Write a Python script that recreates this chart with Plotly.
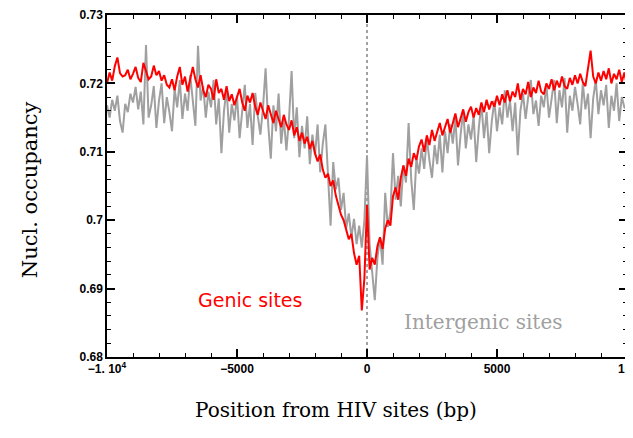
import plotly.graph_objects as go

positions = list(range(-10000, 10001, 100))

genic = [
    0.7200, 0.7216, 0.7204, 0.7225, 0.7238, 0.7215, 0.7210, 0.7212, 0.7220, 0.7206,
    0.7214, 0.7224, 0.7208, 0.7202, 0.7230, 0.7218, 0.7206, 0.7210, 0.7226, 0.7212,
    0.7218, 0.7204, 0.7212, 0.7198, 0.7194, 0.7206, 0.7190, 0.7210, 0.7224, 0.7198,
    0.7210, 0.7188, 0.7204, 0.7224, 0.7206, 0.7194, 0.7212, 0.7190, 0.7180, 0.7198,
    0.7192, 0.7176, 0.7206, 0.7186, 0.7192, 0.7176, 0.7196, 0.7174, 0.7184, 0.7168,
    0.7180, 0.7192, 0.7172, 0.7160, 0.7182, 0.7172, 0.7186, 0.7166, 0.7154, 0.7172,
    0.7160, 0.7148, 0.7168, 0.7156, 0.7142, 0.7160, 0.7146, 0.7136, 0.7154, 0.7140,
    0.7132, 0.7146, 0.7124, 0.7136, 0.7116, 0.7128, 0.7112, 0.7122, 0.7104, 0.7116,
    0.7098, 0.7086, 0.7096, 0.7074, 0.7062, 0.7068, 0.7050, 0.7058, 0.7036, 0.7022,
    0.7008, 0.7000, 0.6986, 0.6972, 0.6980, 0.6952, 0.6935, 0.6948, 0.6868, 0.6915,
    0.7022,
    0.6928, 0.6945, 0.6935, 0.6962, 0.6975, 0.6958, 0.6988, 0.7000, 0.6992, 0.7035,
    0.7048, 0.7030, 0.7062, 0.7080, 0.7065, 0.7090, 0.7078, 0.7098, 0.7088, 0.7108,
    0.7118, 0.7100, 0.7124, 0.7110, 0.7132, 0.7116, 0.7128, 0.7142, 0.7124, 0.7138,
    0.7148, 0.7128, 0.7144, 0.7156, 0.7136, 0.7150, 0.7162, 0.7144, 0.7158, 0.7166,
    0.7150, 0.7164, 0.7154, 0.7172, 0.7158, 0.7176, 0.7162, 0.7174, 0.7166, 0.7182,
    0.7168, 0.7184, 0.7172, 0.7190, 0.7174, 0.7188, 0.7180, 0.7200, 0.7176, 0.7192,
    0.7184, 0.7202, 0.7180, 0.7194, 0.7186, 0.7204, 0.7188, 0.7184, 0.7200, 0.7192,
    0.7206, 0.7190, 0.7204, 0.7194, 0.7210, 0.7196, 0.7192, 0.7208, 0.7198, 0.7212,
    0.7200, 0.7214, 0.7202, 0.7196, 0.7222, 0.7248, 0.7210, 0.7200, 0.7216, 0.7204,
    0.7218, 0.7206, 0.7222, 0.7200, 0.7214, 0.7206, 0.7220, 0.7202, 0.7216, 0.7196,
]

intergenic = [
    0.7168, 0.7150, 0.7176, 0.7160, 0.7182, 0.7145, 0.7128, 0.7170, 0.7158, 0.7185,
    0.7172, 0.7195, 0.7162, 0.7188, 0.7140, 0.7256, 0.7150, 0.7168, 0.7196, 0.7135,
    0.7175, 0.7200, 0.7142, 0.7180, 0.7158, 0.7130, 0.7192, 0.7165, 0.7205, 0.7148,
    0.7185, 0.7160, 0.7212, 0.7170, 0.7138, 0.7255, 0.7175, 0.7196, 0.7150, 0.7188,
    0.7165, 0.7205, 0.7140, 0.7178, 0.7098, 0.7160, 0.7192, 0.7128, 0.7170, 0.7146,
    0.7182, 0.7120, 0.7162, 0.7198, 0.7135, 0.7170, 0.7110, 0.7186, 0.7152, 0.7125,
    0.7165, 0.7222, 0.7140, 0.7090, 0.7168, 0.7130, 0.7185, 0.7112, 0.7150, 0.7102,
    0.7148, 0.7218, 0.7120, 0.7165, 0.7092, 0.7138, 0.7105, 0.7152, 0.7082, 0.7125,
    0.7095, 0.7140, 0.7070, 0.7112, 0.7140, 0.7060, 0.6992, 0.7085, 0.7045, 0.7062,
    0.7015, 0.7040, 0.6988, 0.7010, 0.6975, 0.7002, 0.6965, 0.6992, 0.6960, 0.7000,
    0.7095,
    0.6965, 0.6920, 0.6883, 0.6945, 0.6975, 0.6935, 0.7040, 0.6990, 0.7012, 0.7098,
    0.7030, 0.7065, 0.7020, 0.7080, 0.7055, 0.7142, 0.7060, 0.7015, 0.7090, 0.7068,
    0.7105, 0.7075, 0.7120, 0.7088, 0.7062, 0.7110, 0.7082, 0.7125, 0.7070, 0.7130,
    0.7098, 0.7140, 0.7112, 0.7150, 0.7080, 0.7125, 0.7160, 0.7105, 0.7140, 0.7118,
    0.7152, 0.7085, 0.7135, 0.7170, 0.7120, 0.7158, 0.7098, 0.7145, 0.7175, 0.7130,
    0.7165, 0.7140, 0.7190, 0.7150, 0.7175, 0.7130, 0.7172, 0.7095, 0.7160, 0.7185,
    0.7148, 0.7180, 0.7205, 0.7155, 0.7175, 0.7138, 0.7182, 0.7165, 0.7198, 0.7150,
    0.7178, 0.7205, 0.7142, 0.7190, 0.7165, 0.7208, 0.7128, 0.7182, 0.7160, 0.7195,
    0.7170, 0.7140, 0.7200, 0.7162, 0.7185, 0.7120, 0.7178, 0.7205, 0.7155, 0.7190,
    0.7168, 0.7198, 0.7135, 0.7182, 0.7160, 0.7200, 0.7145, 0.7180, 0.7165, 0.7162,
]

x_range = [-10000, 10000]
y_range = [0.68, 0.73]
x_tickvals = [-10000, -5000, 0, 5000, 10000]
x_ticktext = ["\u22121. 10<sup>4</sup>", "\u22125000", "0", "5000", "10<sup>4</sup>"]
x_minorvals = [-9000, -8000, -7000, -6000, -4000, -3000, -2000, -1000,
               1000, 2000, 3000, 4000, 6000, 7000, 8000, 9000]
y_tickvals = [0.68, 0.69, 0.70, 0.71, 0.72, 0.73]
y_ticktext = ["0.68", "0.69", "0.7", "0.71", "0.72", "0.73"]
y_minorvals = [0.682, 0.684, 0.686, 0.688, 0.692, 0.694, 0.696, 0.698,
               0.702, 0.704, 0.706, 0.708, 0.712, 0.714, 0.716, 0.718,
               0.722, 0.724, 0.726, 0.728]

RED = "#ff0000"
GRAY = "#a0a0a0"

fig = go.Figure()
fig.add_trace(go.Scatter(x=positions, y=intergenic, mode="lines",
                         line=dict(color=GRAY, width=2), showlegend=False,
                         hoverinfo="skip"))
fig.add_trace(go.Scatter(x=positions, y=genic, mode="lines",
                         line=dict(color=RED, width=2), showlegend=False,
                         hoverinfo="skip"))
# invisible trace to activate mirrored tick axes (top / right)
fig.add_trace(go.Scatter(x=[x_range[0]], y=[y_range[0]], xaxis="x2", yaxis="y2",
                         mode="markers", marker=dict(opacity=0), showlegend=False,
                         hoverinfo="skip"))

fig.add_shape(type="line", x0=0, x1=0, y0=y_range[0], y1=y_range[1],
              xref="x", yref="y",
              line=dict(color="#444444", width=1, dash="dot"), layer="below")

fig.add_annotation(x=-4500, y=0.6884, text="Genic sites", showarrow=False,
                   font=dict(family="DejaVu Sans", size=19, color=RED))
fig.add_annotation(x=4470, y=0.6851, text="Intergenic sites", showarrow=False,
                   font=dict(family="DejaVu Serif", size=20, color=GRAY))

fig.add_annotation(xref="paper", yref="paper", x=0.44, y=-0.155,
                   text="Position from HIV sites (bp)", showarrow=False,
                   xanchor="center", yanchor="middle",
                   font=dict(family="DejaVu Serif", size=20, color="black"))
fig.add_annotation(xref="paper", yref="paper", x=-0.148, y=0.488,
                   text="Nucl. occupancy", showarrow=False, textangle=-90,
                   xanchor="center", yanchor="middle",
                   font=dict(family="DejaVu Serif", size=21, color="black"))

tickfont = dict(family="Liberation Sans", size=12, color="black", weight="bold")


def minor_x():
    return dict(ticks="inside", tickmode="array", tickvals=x_minorvals, ticklen=4,
                tickcolor="black", tickwidth=1.2, showgrid=False)


def minor_y():
    return dict(ticks="inside", tickmode="array", tickvals=y_minorvals, ticklen=4,
                tickcolor="black", tickwidth=1.2, showgrid=False)


common = dict(ticks="inside", ticklen=8, tickwidth=1.5, tickcolor="black",
              showgrid=False, zeroline=False, automargin=False)

fig.update_layout(
    width=625, height=430,
    margin=dict(l=99, r=6, t=7, b=81, autoexpand=False),
    paper_bgcolor="white", plot_bgcolor="white",
    xaxis=dict(range=x_range, tickmode="array", tickvals=x_tickvals, ticktext=x_ticktext,
               showline=True, linecolor="black", linewidth=1.5, mirror=True,
               tickfont=tickfont, ticklabeloverflow="allow", minor=minor_x(),
               **common),
    yaxis=dict(range=y_range, tickmode="array", tickvals=y_tickvals, ticktext=y_ticktext,
               showline=True, linecolor="black", linewidth=1.5, mirror=True,
               tickfont=tickfont, ticklabeloverflow="allow", minor=minor_y(),
               **common),
    xaxis2=dict(range=x_range, overlaying="x", side="top", tickmode="array",
                tickvals=x_tickvals, showticklabels=False, minor=minor_x(),
                **common),
    yaxis2=dict(range=y_range, overlaying="y", side="right", tickmode="array",
                tickvals=y_tickvals, showticklabels=False, minor=minor_y(),
                **common),
)

fig.write_html("out.html")
